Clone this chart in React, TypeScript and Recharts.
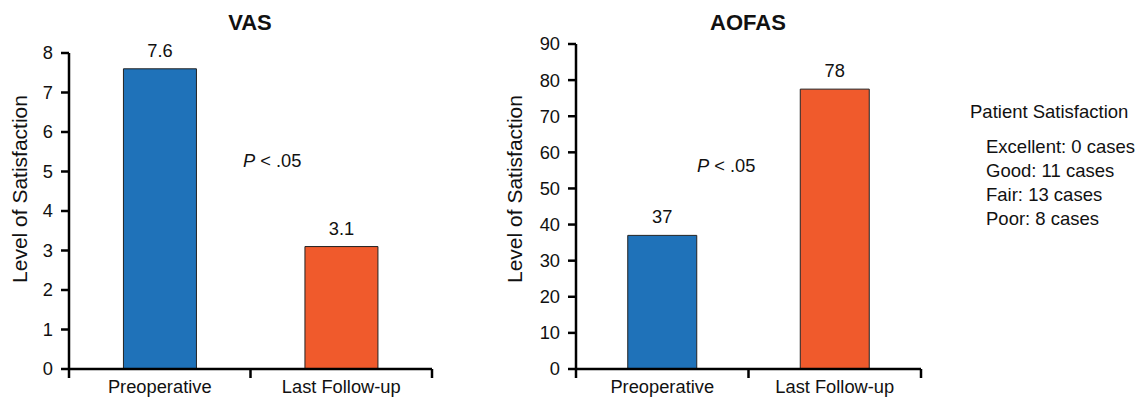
import React from 'react';
import { BarChart, Bar, XAxis, YAxis, Cell, LabelList } from 'recharts';

const categories = ['Preoperative', 'Last Follow-up'];
const vasValues = [7.6, 3.1];
const vasLabels = ['7.6', '3.1'];
const aofasValues = [37, 77.5];
const aofasLabels = ['37', '78'];
const vasTicks = [0, 1, 2, 3, 4, 5, 6, 7, 8];
const aofasTicks = [0, 10, 20, 30, 40, 50, 60, 70, 80, 90];
const barColors = ['#1f72b9', '#f05a2c'];
const axisTitle = 'Level of Satisfaction';
const pText = ' < .05';
const satisfactionTitle = 'Patient Satisfaction';
const satisfactionItems = ['Excellent: 0 cases', 'Good: 11 cases', 'Fair: 13 cases', 'Poor: 8 cases'];

const vasData = categories.map((name, i) => ({ name, value: vasValues[i], label: vasLabels[i] }));
const aofasData = categories.map((name, i) => ({ name, value: aofasValues[i], label: aofasLabels[i] }));

const FONT = '"Liberation Sans", Arial, Helvetica, sans-serif';
const TEXT = '#111';
const FS = 18.3;

const XTick = (props: any) => {
  const { x, y, payload, index, visibleTicksCount } = props;
  const half = payload && payload.offset != null ? payload.offset : 90;
  return (
    <g>
      <line x1={x - half} x2={x - half} y1={y} y2={y + 9} stroke="#000" strokeWidth={2.5} />
      {index === visibleTicksCount - 1 && (
        <line x1={x + half} x2={x + half} y1={y} y2={y + 9} stroke="#000" strokeWidth={2.5} />
      )}
      <text x={x} y={y + 24} textAnchor="middle" fontSize={FS} fill={TEXT} fontFamily={FONT}>
        {payload.value}
      </text>
    </g>
  );
};

function Panel({ data, ticks, domain, width, yAxisWidth, top, right }: any) {
  return (
    <BarChart
      width={width}
      height={398}
      data={data}
      margin={{ top, right, bottom: 0, left: 0 }}
      barCategoryGap="30%"
    >
      <XAxis
        dataKey="name"
        height={29}
        tickSize={0}
        tickMargin={0}
        tickLine={false}
        axisLine={{ stroke: '#000', strokeWidth: 2.5 }}
        tick={<XTick />}
        interval={0}
      />
      <YAxis
        type="number"
        domain={domain}
        ticks={ticks}
        interval={0}
        width={yAxisWidth}
        tickSize={8}
        tickMargin={8}
        axisLine={{ stroke: '#000', strokeWidth: 2.5 }}
        tickLine={{ stroke: '#000', strokeWidth: 2.5 }}
        tick={{ fontSize: FS, fill: TEXT, fontFamily: FONT }}
      />
      <Bar dataKey="value" isAnimationActive={false} stroke="#222" strokeWidth={1}>
        {data.map((d: any, i: number) => (
          <Cell key={d.name} fill={barColors[i]} />
        ))}
        <LabelList dataKey="label" position="top" offset={12} fontSize={FS} fill={TEXT} fontFamily={FONT} />
      </Bar>
    </BarChart>
  );
}

export default function App() {
  return (
    <div
      style={{
        position: 'absolute',
        left: 0,
        top: 0,
        width: 1140,
        height: 398,
        background: '#fff',
        fontFamily: FONT,
      }}
    >
      <div style={{ position: 'absolute', left: 0, top: 0 }}>
        <Panel data={vasData} ticks={vasTicks} domain={[0, 8]} width={440} yAxisWidth={69} top={53} right={8} />
      </div>
      <div style={{ position: 'absolute', left: 480, top: 0 }}>
        <Panel data={aofasData} ticks={aofasTicks} domain={[0, 90]} width={445} yAxisWidth={96} top={44} right={4} />
      </div>
      <svg
        width={1140}
        height={398}
        style={{ position: 'absolute', left: 0, top: 0, pointerEvents: 'none' }}
        fontFamily={FONT}
      >
        <text x={250} y={30} textAnchor="middle" fontSize={22} fontWeight="bold" fill={TEXT}>VAS</text>
        <text x={748} y={30} textAnchor="middle" fontSize={22} fontWeight="bold" fill={TEXT}>AOFAS</text>
        <text x={27} y={189} textAnchor="middle" fontSize={21} fill={TEXT} transform="rotate(-90 27 189)">
          {axisTitle}
        </text>
        <text x={522} y={189} textAnchor="middle" fontSize={21} fill={TEXT} transform="rotate(-90 522 189)">
          {axisTitle}
        </text>
        <text x={243} y={167} fontSize={FS} fill={TEXT}>
          <tspan fontStyle="italic">P</tspan>
          <tspan>{pText}</tspan>
        </text>
        <text x={697} y={172} fontSize={FS} fill={TEXT}>
          <tspan fontStyle="italic">P</tspan>
          <tspan>{pText}</tspan>
        </text>
        <text x={970} y={118} fontSize={18.5} fill={TEXT}>{satisfactionTitle}</text>
        {satisfactionItems.map((s, i) => (
          <text key={s} x={986} y={153 + i * 24} fontSize={18.5} fill={TEXT}>{s}</text>
        ))}
      </svg>
    </div>
  );
}
